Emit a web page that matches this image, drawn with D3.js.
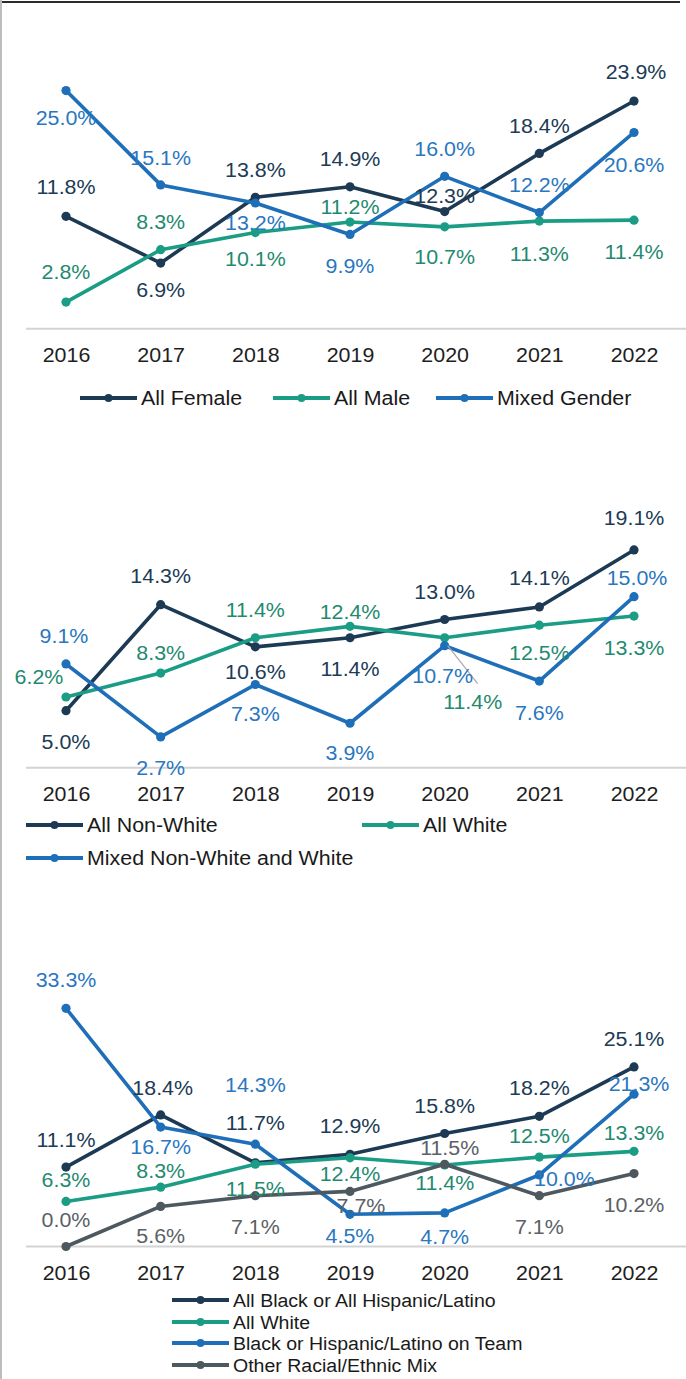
<!DOCTYPE html>
<html>
<head>
<meta charset="utf-8">
<script src="https://cdn.jsdelivr.net/npm/d3@7/dist/d3.min.js"></script>
<style>
  html, body { margin: 0; padding: 0; background: #fff; }
  svg { display: block; }
  text { font-family: "Liberation Sans", Arial, Helvetica, sans-serif; }
</style>
</head>
<body>
<script>
// ---- Data ----
const years = ["2016", "2017", "2018", "2019", "2020", "2021", "2022"];

// Team gender composition (%)
const genderFemale = [11.8, 6.9, 13.8, 14.9, 12.3, 18.4, 23.9];
const genderMale   = [2.8, 8.3, 10.1, 11.2, 10.7, 11.3, 11.4];
const genderMixed  = [25.0, 15.1, 13.2, 9.9, 16.0, 12.2, 20.6];

// Team racial composition (%)
const raceNonWhite = [5.0, 14.3, 10.6, 11.4, 13.0, 14.1, 19.1];
const raceWhite    = [6.2, 8.3, 11.4, 12.4, 11.4, 12.5, 13.3];
const raceMixed    = [9.1, 2.7, 7.3, 3.9, 10.7, 7.6, 15.0];

// Team racial/ethnic composition (%)
const ethBlackHisp = [11.1, 18.4, 11.7, 12.9, 15.8, 18.2, 25.1];
const ethWhite     = [6.3, 8.3, 11.5, 12.4, 11.4, 12.5, 13.3];
const ethOnTeam    = [33.3, 16.7, 14.3, 4.5, 4.7, 10.0, 21.3];
const ethOther     = [0.0, 5.6, 7.1, 7.7, 11.5, 7.1, 10.2];

// ---- Styling ----
const C = {
  navy: "#1d3a55", navyText: "#203b55",
  teal: "#1b9c84", tealText: "#1f8a6f",
  blue: "#1f6fb8", blueText: "#2a77c0",
  gray: "#4d585f", grayText: "#5b6166",
  axis: "#d3d3d3", tick: "#1e1e1e"
};
const FONT = 20;
const STRETCH = 1.07; // slightly widened glyphs

// Label offsets [dx, dy] from each point to the label's centre
const offFemale = [[0,-29],[0,27],[0,-27],[0,-28],[0,-16],[0,-27],[2,-29]];
const offMale   = [[0,-30],[0,-28],[0,26],[0,-15],[0,30],[0,33],[0,32]];
const offMixedG = [[0,27],[0,-27],[0,20],[0,32],[0,-27],[0,-28],[0,33]];

const offNonWhite = [[0,31],[0,-29],[0,25],[0,31],[0,-28],[0,-29],[0,-32]];
const offWhiteR   = [[-27,-20],[0,-20],[0,-28],[0,-14],[28,64],[0,28],[0,32]];
const offMixedR   = [[-2,-28],[0,31],[0,30],[0,30],[-2,30],[0,32],[3,-19]];

const offBlackHisp = [[0,-27],[2,-27],[0,-40],[0,-28],[0,-27],[0,-28],[0,-28]];
const offWhiteE    = [[0,-21],[0,-16],[0,25],[0,16],[0,18],[0,-21],[0,-18]];
const offOnTeam    = [[0,-28],[0,20],[0,-59],[0,22],[0,24],[25,4],[5,-10]];
const offOther     = [[0,-27],[0,30],[0,31],[11,15],[5,-16],[0,31],[0,31]];

const W = 686, H = 1379;
const svg = d3.select("body").append("svg").attr("width", W).attr("height", H);

// frame: dark top rule, light left rule
svg.append("line").attr("x1", 0).attr("x2", 680).attr("y1", 2).attr("y2", 2)
  .attr("stroke", "#2b2b2b").attr("stroke-width", 2);
svg.append("line").attr("x1", 1).attr("x2", 1).attr("y1", 0).attr("y2", H)
  .attr("stroke", "#bdbdbd").attr("stroke-width", 2);

const x = d3.scalePoint().domain(years).range([66, 634]);

function txt(g, px, py, s, color, anchor, size, stretch) {
  const fs = size || FONT, st = stretch || STRETCH;
  g.append("text")
    .attr("transform", `translate(${px},${py + fs * 0.35}) scale(${st},1)`)
    .attr("text-anchor", anchor || "middle")
    .attr("font-size", fs)
    .attr("fill", color)
    .text(s);
}

function drawPanel(p) {
  const g = svg.append("g");
  const y = d3.scaleLinear().domain([0, p.max]).range([p.zeroY, p.zeroY - p.max * p.pxPer]);

  // baseline across the panel
  g.append("line").attr("x1", 26).attr("x2", 686)
    .attr("y1", p.zeroY).attr("y2", p.zeroY)
    .attr("stroke", C.axis).attr("stroke-width", 2);

  // year labels
  const ax = g.append("g").attr("transform", `translate(0,${p.tickY})`)
    .call(d3.axisBottom(x).tickSize(0).tickPadding(0));
  ax.select(".domain").remove();
  ax.selectAll(".tick text").remove();
  ax.selectAll(".tick").each(function(d) {
    d3.select(this).append("text")
      .attr("transform", `translate(0,${FONT * 0.35}) scale(${STRETCH},1)`)
      .attr("text-anchor", "middle")
      .attr("font-size", FONT).attr("fill", C.tick)
      .attr("font-family", '"Liberation Sans", Arial, sans-serif')
      .text(d);
  });

  const line = d3.line().x((d, i) => x(years[i])).y(d => y(d));

  p.series.forEach(s => {
    g.append("path").datum(s.values)
      .attr("d", line).attr("fill", "none")
      .attr("stroke", s.color).attr("stroke-width", 3.6)
      .attr("stroke-linejoin", "round").attr("stroke-linecap", "round");
    g.selectAll(null).data(s.values).enter().append("circle")
      .attr("cx", (d, i) => x(years[i])).attr("cy", d => y(d))
      .attr("r", 4.6).attr("fill", s.color);
  });

  if (p.leaders) p.leaders.forEach(l => {
    const px = x(years[l.i]), py = y(l.series.values[l.i]);
    g.append("line").attr("x1", px + 3).attr("y1", py + 8)
      .attr("x2", px + 33).attr("y2", py + 46)
      .attr("stroke", "#a9a9a9").attr("stroke-width", 1.2);
  });

  p.series.forEach(s => {
    s.values.forEach((v, i) => {
      const o = s.offsets[i];
      txt(g, x(years[i]) + o[0], y(v) + o[1], v.toFixed(1) + "%", s.textColor);
    });
  });

  p.legend.forEach(it => {
    const lg = g.append("g").attr("transform", `translate(${it.x},${it.y})`);
    lg.append("line").attr("x1", 0).attr("x2", 57).attr("y1", 0).attr("y2", 0)
      .attr("stroke", it.s.color).attr("stroke-width", 4);
    lg.append("circle").attr("cx", 28.5).attr("cy", 0).attr("r", 4).attr("fill", it.s.color);
    txt(lg, 61, 0, it.s.name, "#1a1a1a", "start", p.legendFont, p.legendStretch);
  });
}

// Panel 1: gender
const sFemale = { name: "All Female", values: genderFemale, color: C.navy, textColor: C.navyText, offsets: offFemale };
const sMale   = { name: "All Male", values: genderMale, color: C.teal, textColor: C.tealText, offsets: offMale };
const sMixedG = { name: "Mixed Gender", values: genderMixed, color: C.blue, textColor: C.blueText, offsets: offMixedG };
drawPanel({
  zeroY: 328.8, pxPer: 9.53, max: 30, tickY: 355,
  series: [sFemale, sMale, sMixedG],
  legend: [{ s: sFemale, x: 80, y: 398 }, { s: sMale, x: 273, y: 398 }, { s: sMixedG, x: 436, y: 398 }]
});

// Panel 2: race
const sNonWhite = { name: "All Non-White", values: raceNonWhite, color: C.navy, textColor: C.navyText, offsets: offNonWhite };
const sWhiteR   = { name: "All White", values: raceWhite, color: C.teal, textColor: C.tealText, offsets: offWhiteR };
const sMixedR   = { name: "Mixed Non-White and White", values: raceMixed, color: C.blue, textColor: C.blueText, offsets: offMixedR };
drawPanel({
  zeroY: 767.7, pxPer: 11.4, max: 20, tickY: 794,
  series: [sNonWhite, sWhiteR, sMixedR],
  leaders: [{ series: sWhiteR, i: 4 }],
  legend: [{ s: sNonWhite, x: 26, y: 825 }, { s: sWhiteR, x: 362, y: 825 }, { s: sMixedR, x: 26, y: 858 }]
});

// Panel 3: race/ethnicity
const sBlackHisp = { name: "All Black or All Hispanic/Latino", values: ethBlackHisp, color: C.navy, textColor: C.navyText, offsets: offBlackHisp };
const sWhiteE    = { name: "All White", values: ethWhite, color: C.teal, textColor: C.tealText, offsets: offWhiteE };
const sOnTeam    = { name: "Black or Hispanic/Latino on Team", values: ethOnTeam, color: C.blue, textColor: C.blueText, offsets: offOnTeam };
const sOther     = { name: "Other Racial/Ethnic Mix", values: ethOther, color: C.gray, textColor: C.grayText, offsets: offOther };
drawPanel({
  zeroY: 1246.5, pxPer: 7.153, max: 35, tickY: 1273,
  series: [sBlackHisp, sWhiteE, sOnTeam, sOther],
  legendFont: 18.8, legendStretch: 1.04,
  legend: [{ s: sBlackHisp, x: 172, y: 1300 }, { s: sWhiteE, x: 172, y: 1322 },
           { s: sOnTeam, x: 172, y: 1343 }, { s: sOther, x: 172, y: 1365 }]
});
</script>
</body>
</html>
